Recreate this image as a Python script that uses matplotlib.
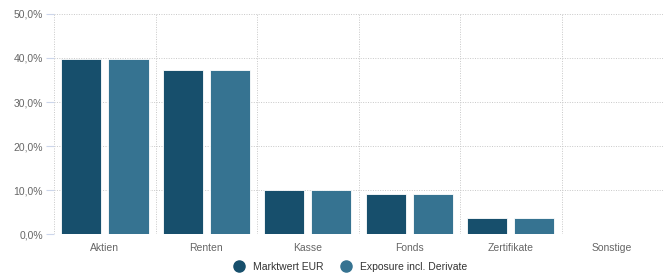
import matplotlib.pyplot as plt
import numpy as np

categories = ["Aktien", "Renten", "Kasse", "Fonds", "Zertifikate", "Sonstige"]
marktwert = [39.8, 37.2, 10.0, 9.1, 3.6, 0.0]
exposure = [39.8, 37.2, 10.0, 9.1, 3.6, 0.0]
series_names = ["Marktwert EUR", "Exposure incl. Derivate"]
colors = ["#174f6c", "#367391"]

plt.rcParams['font.family'] = ['Liberation Sans', 'DejaVu Sans']

fig = plt.figure(figsize=(6.69, 2.73), dpi=100)
ax = fig.add_axes([0.081, 0.142, 0.910, 0.807])

x = np.arange(len(categories))
w = 0.395
gap = 0.07
ax.bar(x - (w + gap) / 2, marktwert, width=w, color=colors[0], edgecolor="white", linewidth=0.6, zorder=3)
ax.bar(x + (w + gap) / 2, exposure, width=w, color=colors[1], edgecolor="white", linewidth=0.6, zorder=3)

ax.set_xlim(-0.5, len(categories) - 0.5)
ax.set_ylim(0, 50)

# grid: horizontal at each 10%, vertical at category boundaries
for yv in range(0, 51, 10):
    ax.axhline(yv, color="#c8c8c8", lw=0.7, ls=(0, (1, 1.5)), zorder=1)
for xv in np.arange(-0.5, len(categories), 1.0):
    ax.axvline(xv, color="#c8c8c8", lw=0.7, ls=(0, (1, 1.5)), zorder=1)

ax.set_yticks(range(0, 51, 10))
ax.set_yticklabels([f"{v},0%" for v in range(0, 51, 10)])
ax.set_xticks(x)
ax.set_xticklabels(categories)
ax.tick_params(axis="y", length=6, width=0.8, color="#ccd6eb", labelsize=7.5, labelcolor="#666666", pad=2)
ax.tick_params(axis="x", length=0, labelsize=7.5, labelcolor="#666666", pad=6)
for s in ax.spines.values():
    s.set_visible(False)

handles = [plt.Line2D([], [], marker="o", ls="", markersize=8, color=c) for c in colors]
fig.legend(handles, series_names, loc="lower center", ncol=2, frameon=False,
           bbox_to_anchor=(0.52, -0.03), fontsize=7.5, handletextpad=0.3, columnspacing=1.2,
           labelcolor="#333333")

fig.savefig("out.png", dpi=100)
